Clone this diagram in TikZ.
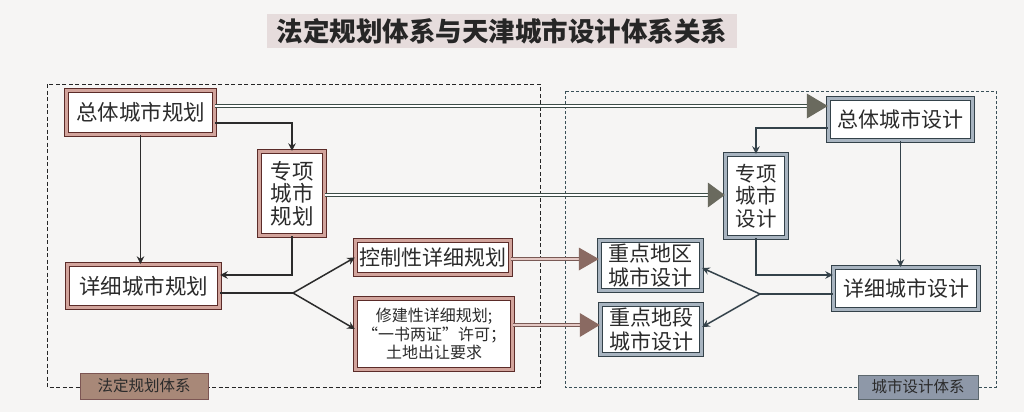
\documentclass[tikz,border=0pt]{standalone}
\usepackage{fontspec}
\setmainfont{Noto Sans CJK SC}
\usetikzlibrary{calc,arrows.meta}
\definecolor{bgc}{HTML}{F6F5F4}
\definecolor{txt}{HTML}{2B2B2B}
\definecolor{lbr}{HTML}{5B2B28}
\definecolor{lpk}{HTML}{D2A49C}
\definecolor{rsl}{HTML}{34424A}
\definecolor{rbl}{HTML}{A8B4C0}
\definecolor{dgl}{HTML}{3D4D47}
\definecolor{dgh}{HTML}{6A6A5E}
\definecolor{dbl}{HTML}{7A5A55}
\definecolor{dbh}{HTML}{8A6A62}
\definecolor{labl}{HTML}{A88878}
\definecolor{labr}{HTML}{8E98A8}
\definecolor{titbg}{HTML}{E6DCDC}
\definecolor{rframe}{HTML}{3A5058}
\begin{document}
\begin{tikzpicture}[x=1pt,y=-1pt,
  lbox/.style={draw=lbr, line width=1.2pt, double=lpk, double distance=2.4pt, fill=white,
    inner sep=0pt, align=center, text=txt, font=\fontsize{21.5}{22.5}\selectfont},
  rbox/.style={draw=rsl, line width=1.2pt, double=rbl, double distance=2.4pt, fill=white,
    inner sep=0pt, align=center, text=txt, font=\fontsize{21}{23.5}\selectfont},
  bsize/.style n args={2}{minimum width=#1pt-4.8pt, minimum height=#2pt-4.8pt},
  larr/.style={draw=txt, line width=1.5pt, -{Stealth[length=7.5pt,width=7.5pt,inset=2.5pt]}},
  lline/.style={draw=txt, line width=1.5pt},
  rarr/.style={draw=rsl, line width=1.5pt, -{Stealth[length=7.5pt,width=7.5pt,inset=2.5pt]}},
  rline/.style={draw=rsl, line width=1.5pt},
  dblg/.style={draw=dgl, line width=0.9pt, double=white, double distance=2pt},
  dblb/.style={draw=dbl, line width=0.9pt, double=lpk!60!white, double distance=2pt},
  headg/.style={fill=dgh},
  headb/.style={fill=dbh},
  framelab/.style={inner sep=0pt, text=txt, font=\fontsize{15.5}{17}\selectfont}
]
\useasboundingbox (0,0) rectangle (1024,412);
\fill[bgc] (0,0) rectangle (1024,412);

% title
\fill[titbg] (267,14) rectangle (737,48);
\node[font=\fontsize{26.5}{28}\selectfont\bfseries, text=black!85] (title) at (502,31) {法定规划体系与天津城市设计体系关系};

% frames
\draw[black!85, line width=1pt, dash pattern=on 4pt off 2.5pt] (47,84) rectangle (540,387);
\draw[rframe, line width=0.9pt, dash pattern=on 3pt off 2pt] (565,91) rectangle (996,387);
\node[framelab, fill=labl, draw=lbr!80, line width=0.8pt, minimum width=128pt, minimum height=26pt] (llab) at (144,386) {法定规划体系};
\node[framelab, fill=labr, draw=rsl!80, line width=0.8pt, minimum width=120pt, minimum height=24pt] (rlab) at (918,387) {城市设计体系};

% left nodes
\node[lbox, bsize={153}{49}] (zt) at (140.5,112.5) {总体城市规划};
\node[lbox, bsize={70}{89}] (zx) at (292,193.5) {专项\\城市\\规划};
\node[lbox, bsize={157}{48}] (xx) at (143.5,286) {详细城市规划};
\node[lbox, bsize={160}{39}, font=\fontsize{21}{22.5}\selectfont] (kz) at (433,257.5) {控制性详细规划};
\node[lbox, bsize={162}{76}, font=\fontsize{16}{18.5}\selectfont] (xj) at (434,334) {修建性详细规划;\\“一书两证”许可；\\土地出让要求};

% right nodes
\node[rbox, bsize={149}{47}] (dt) at (900.5,119.5) {总体城市设计};
\node[rbox, bsize={66}{88}, font=\fontsize{20.5}{22.5}\selectfont] (dz) at (756,196) {专项\\城市\\设计};
\node[rbox, bsize={150}{47}] (dx) at (906,288.5) {详细城市设计};
\node[rbox, bsize={107}{55}] (dq) at (650.5,265.5) {重点地区\\城市设计};
\node[rbox, bsize={106}{55}] (dd) at (651,329.5) {重点地段\\城市设计};

% left connectors
\draw[larr] (zt.south) -- (zt.south |- xx.north);
\draw[larr] ([yshift=-10.5pt]zt.east) -| (zx.north);
\draw[larr] (zx.south) |- ([yshift=11pt]xx.east);
\coordinate (fl) at (293,293);
\draw[lline] ([yshift=-7pt]xx.east) -- (fl);
\draw[larr] (fl) -- (kz.west);
\draw[larr] (fl) -- ([yshift=5pt]xj.west);

% right connectors
\draw[rarr] ([yshift=-8.5pt]dt.west) -| (dz.north);
\draw[rarr] (dt.south) -- (dt.south |- dx.north);
\draw[rarr] (dz.south) |- ([yshift=13.5pt]dx.west);
\coordinate (fr) at (760,294);
\draw[rline] ([yshift=-5.5pt]dx.west) -- (fr);
\draw[rarr] (fr) -- ([yshift=-2.5pt]dq.east);
\draw[rarr] (fr) -- ([yshift=2.5pt]dd.east);

% double connectors
\coordinate (e1) at ([yshift=13.5pt]dt.west);
\draw[dblg] ([yshift=6.5pt]zt.east) -- ([xshift=-19pt]e1);
\fill[headg] (e1) -- ++(-21,-12.5) -- ++(0,25) -- cycle;

\coordinate (e2) at ([yshift=1pt]dz.west);
\draw[dblg] ([yshift=-1.5pt]zx.east) -- ([xshift=-15pt]e2);
\fill[headg] (e2) -- ++(-17,-12.5) -- ++(0,25) -- cycle;

\coordinate (e3) at ([yshift=6.5pt]dq.west);
\draw[dblb] ([yshift=-1.5pt]kz.east) -- ([xshift=-18pt]e3);
\fill[headb] (e3) -- ++(-20,-11.5) -- ++(0,23) -- cycle;

\coordinate (e4) at ([yshift=4.5pt]dd.west);
\draw[dblb] ([yshift=9pt]xj.east) -- ([xshift=-18pt]e4);
\fill[headb] (e4) -- ++(-20,-12) -- ++(0,24) -- cycle;
\end{tikzpicture}
\end{document}
